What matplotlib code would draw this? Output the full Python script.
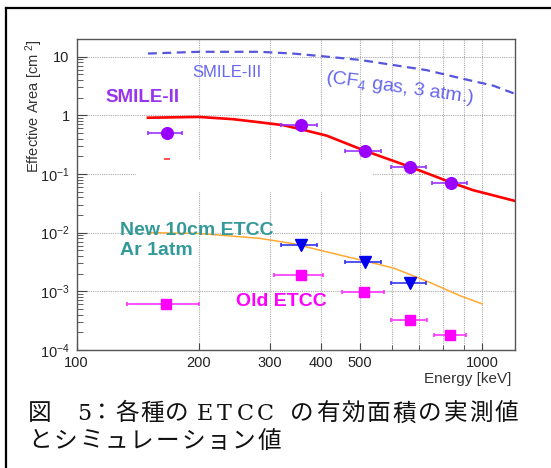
import numpy as np
import matplotlib
matplotlib.use('Agg')
import matplotlib.pyplot as plt
from matplotlib.lines import Line2D
from matplotlib.patches import Rectangle
from matplotlib.ticker import FixedLocator, FixedFormatter, NullFormatter, LogLocator

plt.rcParams['font.family'] = ['Liberation Sans', 'DejaVu Sans']
plt.rcParams['mathtext.fontset'] = 'custom'
plt.rcParams['mathtext.rm'] = 'Liberation Sans'
plt.rcParams['mathtext.it'] = 'Liberation Sans:italic'
plt.rcParams['mathtext.bf'] = 'Liberation Sans:bold'

W, H = 551, 468

# measured points: SMILE-II (CF4)
smile2_e = np.array([167, 357, 513, 663, 837])
smile2_a = np.array([0.50, 0.68, 0.25, 0.133, 0.071])
smile2_elo = np.array([150, 320, 459, 596, 751])
smile2_ehi = np.array([182, 392, 562, 728, 920])

# measured points: new 10cm ETCC (Ar 1atm)
new_e = np.array([357, 513, 663])
new_a = np.array([0.0062, 0.0032, 0.00137])
new_elo = np.array([320, 459, 596])
new_ehi = np.array([392, 562, 728])

# measured points: old ETCC
old_e = np.array([166, 357, 511, 663, 834])
old_a = np.array([0.00061, 0.00187, 0.00098, 0.00033, 0.000178])
old_elo = np.array([133, 307, 452, 596, 761])
old_ehi = np.array([200, 405, 573, 730, 913])

# simulations
sim2_e = [150, 200, 243, 283, 323, 357, 414, 513, 663, 837, 950, 1200]
sim2_a = [0.91, 0.94, 0.86, 0.76, 0.68, 0.58, 0.45, 0.25, 0.133, 0.072, 0.053, 0.035]

sim3_e = [150, 200, 283, 342, 414, 500, 604, 729, 883, 1066, 1200]
sim3_a = [11.3, 12.1, 12.1, 11.3, 10.0, 8.8, 7.2, 5.9, 4.3, 3.2, 2.35]

simnew_e = [150, 200, 283, 342, 414, 513, 604, 663, 729, 883, 1000]
simnew_a = [0.0100, 0.0097, 0.0080, 0.0065, 0.0047, 0.0033, 0.0025, 0.00194, 0.0015, 0.00084, 0.00061]

red_mark_e = [167]
red_mark_a = [0.177]

x_major = [100, 200, 300, 400, 500, 1000]
x_major_labels = ['100', '200', '300', '400', '500', '1000']
x_minor = [600, 700, 800, 900]
y_major = [1e-4, 1e-3, 1e-2, 1e-1, 1, 10]
y_major_labels = ['10$^{-4}$', '10$^{-3}$', '10$^{-2}$', '10$^{-1}$', '1', '10']

fig = plt.figure(figsize=(W / 100, H / 100), dpi=100)
ax = fig.add_axes([76.5 / W, 1 - 350 / H, 438.5 / W, 311 / H])
ax.set_xscale('log')
ax.set_yscale('log')
ax.set_xlim(100, 1205)
ax.set_ylim(1e-4, 20)

ax.set_axisbelow(True)
ax.xaxis.set_major_locator(FixedLocator(x_major))
ax.xaxis.set_major_formatter(FixedFormatter(x_major_labels))
ax.xaxis.set_minor_locator(FixedLocator(x_minor))
ax.xaxis.set_minor_formatter(NullFormatter())
ax.yaxis.set_major_locator(FixedLocator(y_major))
ax.yaxis.set_major_formatter(FixedFormatter(y_major_labels))
ax.yaxis.set_minor_locator(LogLocator(base=10, subs=np.arange(2, 10), numticks=20))
ax.yaxis.set_minor_formatter(NullFormatter())

ax.tick_params(which='both', direction='in', color='#444444', labelcolor='#222222',
               labelsize=10.5, top=False, right=False)
ax.tick_params(axis='y', which='major', length=7, pad=5)
ax.tick_params(axis='y', which='minor', length=4)
ax.tick_params(axis='x', which='major', length=5, pad=4)
ax.tick_params(axis='x', which='minor', length=3.5)

ax.grid(True, axis='x', which='both', color='#aaaaaa', linestyle=(0, (1, 1)), linewidth=0.8)
ax.grid(True, axis='y', which='major', color='#aaaaaa', linestyle=(0, (1, 1)), linewidth=0.8)
for s in ax.spines.values():
    s.set_color('#555555')
    s.set_linewidth(1.0)

# blank patch over part of the grid
ax.add_patch(Rectangle((0.136, 0.508), 0.538, 0.103, transform=ax.transAxes,
                       facecolor='white', edgecolor='none', zorder=1.5))

# simulation curves
ax.plot(sim3_e, sim3_a, color='#5555dd', lw=1.6, dashes=(4, 2.5), zorder=2)
ax.plot(sim2_e, sim2_a, color='#ff0000', lw=1.9, zorder=2)
ax.plot(simnew_e, simnew_a, color='#ffaa33', lw=1.1, zorder=2)
ax.plot(red_mark_e, red_mark_a, marker='_', color='#ff3333', ms=4, mew=1.2, ls='none', zorder=3)

# measured points
ax.errorbar(smile2_e, smile2_a, xerr=[smile2_e - smile2_elo, smile2_ehi - smile2_e],
            fmt='o', color='#9900ff', ecolor='#9933ff', ms=8.4, elinewidth=1.2,
            capsize=1.6, capthick=1.2, zorder=4)
ax.errorbar(new_e, new_a, xerr=[new_e - new_elo, new_ehi - new_e],
            fmt='v', color='#0000ee', ecolor='#3333ee', ms=8, elinewidth=1.2,
            capsize=1.6, capthick=1.2, zorder=4)
ax.errorbar(old_e, old_a, xerr=[old_e - old_elo, old_ehi - old_e],
            fmt='s', color='#ff00ff', ecolor='#ff33ff', ms=7.2, elinewidth=1.2,
            capsize=1.6, capthick=1.2, zorder=4)

# labels
ax.text(118, 2.0, 'SMILE-II', color='#9933ee', fontsize=13.5, fontweight='bold',
        ha='left', va='center')
ax.text(193, 5.3, 'SMILE-III', color='#6666ee', fontsize=12, ha='left', va='center')
ax.text(626, 2.9, '(CF$_4$ gas, 3 atm.)', color='#6666ee', fontsize=14,
        ha='center', va='center', rotation=-8, rotation_mode='anchor')
ax.text(128, 0.0074, 'New 10cm ETCC\nAr 1atm', color='#339999', fontsize=14,
        fontweight='bold', ha='left', va='center', linespacing=1.2)
ax.text(247, 0.00067, 'Old ETCC', color='#ff00ff', fontsize=14, fontweight='bold',
        ha='left', va='center')

ax.text((34 - 76.5) / 438.5, 1.0, 'Effective Area [cm $^{2}$]', transform=ax.transAxes,
        rotation=90, ha='center', va='top', fontsize=10.5, color='#333333')
ax.text(0.991, -0.093, 'Energy [keV]', transform=ax.transAxes, ha='right', va='center',
        fontsize=11, color='#333333')

# outer frame (left and top)
fig.add_artist(Line2D([6 / W, 6 / W], [0, 1 - 8 / H], transform=fig.transFigure,
                      color='black', lw=1.6))
fig.add_artist(Line2D([6 / W, 1], [1 - 8 / H, 1 - 8 / H], transform=fig.transFigure,
                      color='black', lw=1.6))

# caption, set piece by piece to get the justified spacing
cap_font = ['DejaVu Serif', 'Noto Sans CJK JP']
cap_size = 17


def cap_text(s, x0, y, pitch=None, size=cap_size):
    """Put caption text at pixel x0; with pitch, one character every pitch pixels."""
    if pitch is None:
        fig.text(x0 / W, 1 - y / H, s, family=cap_font, fontsize=size,
                 ha='left', va='center', color='#111111')
        return
    for i, ch in enumerate(s):
        fig.text((x0 + i * pitch) / W, 1 - y / H, ch, family=cap_font, fontsize=size,
                 ha='left', va='center', color='#111111')


cap_text('図', 28, 414)
cap_text('5', 77, 414, size=16)
cap_text('：各種の', 90, 414, pitch=25)
cap_text('ETCC', 197, 414, pitch=20, size=16)
cap_text('の有効面積の実測値', 290, 414, pitch=25.6)
cap_text('とシミュレーション値', 28, 441, pitch=25.5)

fig.savefig('out.png', dpi=100)
